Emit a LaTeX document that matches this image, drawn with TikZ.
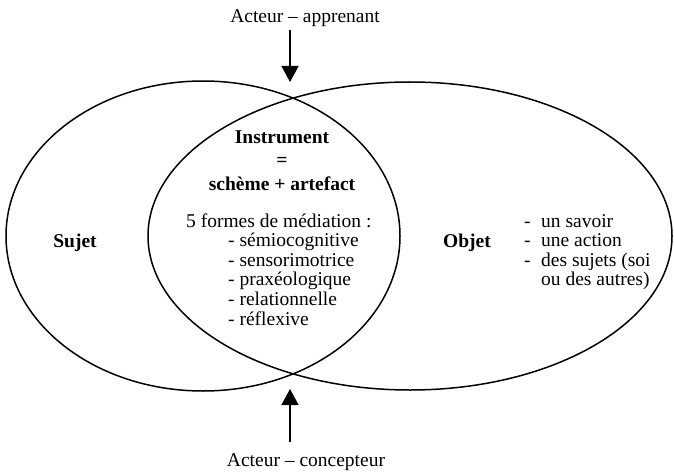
\documentclass[tikz,border=0pt]{standalone}
\usepackage{fontspec}
\setmainfont{Liberation Serif}
\usetikzlibrary{arrows.meta}
\begin{document}
\begin{tikzpicture}[x=1pt,y=-1pt,
  txt/.style={font=\fontsize{19.5}{19.6}\selectfont, inner sep=0pt},
  btxt/.style={font=\fontsize{19.5}{19.6}\selectfont\bfseries, inner sep=0pt},
  ring/.style={line width=1.5pt},
  actarrow/.style={line width=1.5pt, -{Triangle[width=17pt,length=16pt]}}]
\useasboundingbox (0,0) rectangle (674,473);
% ellipses
\draw[ring] (203,236) ellipse [x radius=197pt, y radius=155pt];
\draw[ring] (410,236) ellipse [x radius=262pt, y radius=154pt];
% actors
\node[txt, anchor=base] (top) at (305,23) {Acteur – apprenant};
\coordinate (topx) at (290,82);
\draw[actarrow, shorten <=3pt] (top.south -| topx) -- (topx);
\node[txt, anchor=base] (bot) at (306,466) {Acteur – concepteur};
\coordinate (botx) at (290,389);
\draw[actarrow, shorten <=11pt] (bot.north -| botx) -- (botx);
% sujet / objet
\node[btxt, anchor=base] (sujet) at (75,247) {Sujet};
\node[btxt, anchor=base] (objet) at (467,247) {Objet};
% instrument
\node[btxt, anchor=base] (instr) at (282,144) {Instrument};
\node[btxt, anchor=base] (eq) at (282,167) {=};
\node[btxt, anchor=base] (sch) at (282,190) {schème + artefact};
\node[txt, anchor=base west] (formes) at (186,227) {5 formes de médiation :};
\node[txt, anchor=base west] (m1) at (228,246.6) {- sémiocognitive};
\node[txt, anchor=base west] (m2) at (228,266.2) {- sensorimotrice};
\node[txt, anchor=base west] (m3) at (228,285.8) {- praxéologique};
\node[txt, anchor=base west] (m4) at (228,305.4) {- relationnelle};
\node[txt, anchor=base west] (m5) at (228,325) {- réflexive};
% objet list
\node[txt, anchor=base west] (d1) at (524,227) {-};
\node[txt, anchor=base west] (o1) at (541,227) {un savoir};
\node[txt, anchor=base west] (d2) at (524,246.6) {-};
\node[txt, anchor=base west] (o2) at (541,246.6) {une action};
\node[txt, anchor=base west] (d3) at (524,266.2) {-};
\node[txt, anchor=base west] (o3) at (541,266.2) {des sujets (soi};
\node[txt, anchor=base west] (o4) at (541,285.8) {ou des autres)};
\end{tikzpicture}
\end{document}
